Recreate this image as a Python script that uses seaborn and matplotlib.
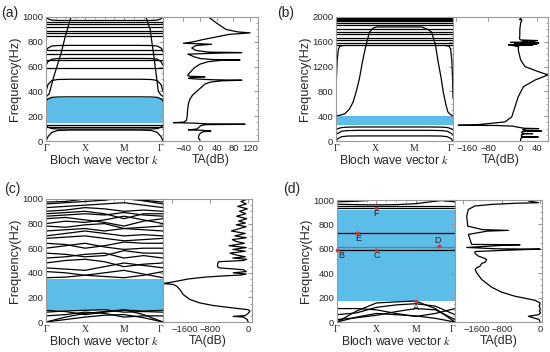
import matplotlib
matplotlib.use("Agg")
import matplotlib.pyplot as plt
import seaborn as sns
from matplotlib.ticker import MultipleLocator

sns.set_style("white")
plt.rcParams['font.family'] = ['Liberation Sans', 'DejaVu Sans']
plt.rcParams['mathtext.fontset'] = 'stix'

BLUE = '#5BBDE8'
GREY = '#9a9a9a'
K_TICKS = [0, 1, 2, 3]
K_LABELS = ['Γ', 'X', 'M', 'Γ']

# ---------------- panel (a) ----------------
KA = [0, 0.05, 0.15, 0.3, 0.6, 1, 2, 2.4, 2.7, 2.85, 2.95, 3]
bands_a = [
    [0, 35, 70, 85, 88, 88, 88, 88, 85, 70, 35, 0],
    [130, 112, 100, 97, 96, 96, 96, 96, 97, 100, 112, 130],
    [322, 340, 352, 355, 356, 356, 356, 356, 355, 352, 340, 322],
    [400, 455, 488, 496, 498, 498, 498, 498, 496, 488, 455, 400],
    [610, 640, 660, 665, 666, 666, 666, 666, 665, 660, 640, 610],
    [720, 750, 766, 770, 771, 771, 771, 771, 770, 766, 750, 720],
    [1010, 985, 975, 972, 972, 972, 972, 972, 972, 975, 985, 1010],
]
steep_a_left_k = [0, 0.08, 0.2, 0.38, 0.5, 0.65]
steep_a_left_f = [355, 380, 520, 700, 850, 1010]
steep_a_right_k = [2.55, 2.67, 2.78, 2.88, 2.95, 3]
steep_a_right_f = [1010, 900, 650, 400, 370, 360]
flat_a = [113, 128, 590, 650, 700, 730, 850, 868, 885, 920, 940, 960]
gap_a = [145, 347]

ta_a_f = [5, 25, 45, 60, 70, 76, 80, 86, 90, 96, 110, 125, 132, 135, 138, 144, 148, 152,
          165, 200, 250, 300, 340, 370, 400, 430, 460, 475, 485, 490, 494, 500, 505, 512,
          518, 522, 530, 560, 590, 620, 640, 650, 653, 657, 665, 680, 695, 700, 705, 710,
          713, 717, 730, 750, 770, 780, 784, 788, 800, 820, 840, 860, 872, 880, 900, 950, 1000]
ta_a_db = [0, -4, -3, 0, 4, 10, 26, 5, -28, -8, -3, 2, 15, 108, 20, -15, -64, -40,
           -33, -31, -30, -28, -24, -18, -8, 2, 12, 25, 50, 100, 30, -10, -28, -20,
           12, -25, -30, -22, -14, 0, 20, 50, 96, 30, 0, -15, -25, -29, 10, 60,
           100, 20, -10, -20, -10, 28, 0, -40, -16, 10, 40, 70, 120, 90, 62, 40, 20]

# ---------------- panel (b) ----------------
KB = KA
bands_b = [
    [0, 40, 70, 80, 82, 82, 82, 82, 80, 70, 40, 0],
    [100, 125, 158, 168, 172, 172, 172, 172, 168, 158, 125, 100],
    [180, 200, 218, 224, 226, 226, 226, 226, 224, 218, 200, 180],
]
steep_b_k = [0, 0.1, 0.23, 0.35, 0.44, 0.52, 0.6, 0.67, 0.73, 0.8, 0.86, 0.95, 1.05,
             2.2, 2.35, 2.45, 2.55, 2.62, 2.7, 2.75, 2.82, 2.87, 2.95, 3]
steep_b_f = [405, 415, 440, 520, 630, 800, 1005, 1250, 1435, 1620, 1758, 1820, 1840,
             1840, 1800, 1758, 1550, 1274, 1000, 790, 580, 468, 420, 410]
edge_b_left_k = [0, 0.01, 0.03, 0.06, 0.1, 0.2]
edge_b_right_k = [3, 2.99, 2.97, 2.94, 2.9, 2.8]
edge_b_f = [700, 1000, 1300, 1480, 1530, 1540]
flat_b = [1545, 1575, 1625, 1655, 1720, 1765, 1800, 1870, 1905, 1930, 1950, 1970, 1985]
gap_b = [253, 398]

ta_b_f = [0, 30, 55, 62, 65, 68, 75, 100, 115, 119, 123, 140, 155, 160, 163, 168, 185,
          195, 200, 205, 220, 240, 250, 254, 258, 270, 308, 389, 551, 713, 876, 984,
          1065, 1119, 1200, 1308, 1470, 1520, 1540, 1545, 1550, 1560, 1570, 1580, 1590,
          1600, 1610, 1620, 1630, 1650, 1700, 1800, 1900, 1950, 1960, 1970, 2000]
ta_b_db = [0, 0, 2, 10, 44, 10, 2, 2, 10, 30, 5, 2, 5, 20, 52, 10, 5,
           15, 45, 10, -5, -20, -60, -155, -120, -97, -39, -22, -14, -6, 7, 36,
           68, 44, 11, 0, -6, -5, -20, 30, -30, 40, -15, 45, -25,
           35, 5, 42, 0, -3, -2, -2, 0, 3, -3, 0, 0]

# ---------------- panel (c) ----------------
KC = [0, 0.5, 1, 1.5, 2, 2.5, 3]
bands_c = [
    [0, 40, 70, 85, 100, 60, 0],
    [0, 20, 40, 55, 60, 35, 0],
    [50, 60, 80, 70, 40, 50, 50],
    [80, 90, 95, 100, 80, 85, 80],
    [95, 85, 60, 80, 97, 90, 95],
    [360, 365, 380, 400, 420, 390, 360],
    [410, 400, 380, 370, 360, 380, 410],
    [440, 430, 420, 450, 480, 460, 440],
    [480, 500, 510, 490, 450, 470, 480],
    [520, 530, 550, 560, 520, 540, 520],
    [560, 550, 530, 540, 580, 560, 560],
    [600, 620, 640, 610, 590, 600, 600],
    [640, 630, 600, 620, 650, 640, 640],
    [680, 690, 700, 680, 660, 670, 680],
    [700, 720, 740, 720, 700, 710, 700],
    [740, 750, 760, 740, 760, 750, 740],
    [780, 770, 790, 800, 760, 770, 780],
    [800, 820, 810, 830, 860, 830, 800],
    [840, 850, 830, 810, 780, 820, 840],
    [860, 870, 880, 870, 890, 870, 860],
    [880, 890, 900, 880, 840, 880, 880],
    [900, 910, 930, 920, 900, 910, 900],
    [930, 940, 950, 960, 970, 950, 930],
    [960, 970, 980, 990, 1010, 985, 960],
    [975, 980, 1000, 1010, 1000, 990, 975],
]
gap_c = [101, 346]

ta_c_f = [0, 20, 40, 46, 52, 70, 87, 100, 114, 134, 155, 183, 223, 264, 292, 305, 313,
          318, 324, 335, 350, 365, 375, 382, 390, 400, 410, 425, 440, 450, 470, 490, 500,
          510, 520, 530, 545, 560, 575, 590, 605, 620, 640, 655, 670, 685, 700, 720, 740,
          760, 775, 790, 805, 820, 840, 860, 880, 900, 920, 940, 960, 980, 1000]
ta_c_db = [0, -20, -100, -313, -60, 0, 35, 0, -313, -730, -1009, -1218, -1357, -1427,
           -1496, -1566, -1775, -1700, -1600, -1450, -1250, -900, -500, -150, -40, -313,
           -40, -100, -600, -640, -640, -620, -100, -30, -320, -60, -250, -380, -60, -320,
           -40, -400, -80, -250, -330, -40, -280, -60, -350, -180, -40, -250, -60, -200,
           -30, -240, -50, -180, -20, -220, -40, -150, -10]

# ---------------- panel (d) ----------------
KD = KC
bands_d = [
    [0, 90, 156, 165, 172, 110, 0],
    [0, 40, 70, 60, 50, 30, 0],
    [110, 110, 100, 70, 45, 70, 110],
    [20, 35, 55, 85, 110, 100, 20],
    [60, 75, 120, 140, 150, 130, 60],
    [965, 962, 960, 962, 970, 990, 1010],
    [985, 990, 1000, 1010, 1010, 1000, 985],
]
flat_d = [590, 730, 935, 950]
flat_d_grey = [618]
gap_d = [170, 922]
points_d = ['A', 'B', 'C', 'D', 'E', 'F']
points_d_k = [2, 0, 1, 2.6, 0.5, 1]
points_d_f = [175, 590, 590, 620, 731, 935]
labels_d_k = [2, 0.12, 1, 2.55, 0.55, 1]
labels_d_f = [118, 545, 545, 665, 688, 893]

ta_d_f = [0, 20, 47, 60, 74, 90, 110, 130, 156, 178, 189, 211, 244, 285, 348, 403, 430,
          444, 458, 480, 490, 512, 526, 540, 562, 578, 594, 597, 600, 611, 630, 633, 636,
          677, 718, 745, 751, 757, 786, 869, 923, 951, 964, 973, 978, 992, 1005]
ta_d_db = [0, -20, -244, -30, 10, -15, 5, -20, 0, -104, -244, -522, -800, -1009, -1218,
           -1322, -1357, -1322, -1253, -1218, -1148, -1113, -1183, -1288, -1357, -1357,
           -300, 0, -900, -1531, -700, -418, -1427, -1462, -1496, -1100, -661, -1200,
           -1510, -1531, -1496, -1357, -1009, -522, -35, -244, 0]


def box(x0, x1, y0, y1):
    return [x0 / 550, 1 - y1 / 352, (x1 - x0) / 550, (y1 - y0) / 352]


def style_axes(ax):
    for sp in ax.spines.values():
        sp.set_color(GREY)
        sp.set_linewidth(0.8)
    ax.tick_params(which='both', direction='in', color=GREY, top=True, right=True,
                   labelsize=6.8, pad=2)
    ax.tick_params(which='major', length=3)
    ax.tick_params(which='minor', length=1.5)


def band_axes(fig, rect, ymax, ystep, gap):
    ax = fig.add_axes(rect)
    style_axes(ax)
    ax.axhspan(gap[0], gap[1], color=BLUE, lw=0, zorder=0)
    ax.set_xlim(0, 3)
    ax.set_ylim(0, ymax)
    ax.set_xticks(K_TICKS)
    ax.set_xticklabels(K_LABELS, family='Liberation Serif', fontsize=7)
    ax.get_xticklabels()[-1].set_ha('right')
    ax.yaxis.set_major_locator(MultipleLocator(ystep))
    ax.yaxis.set_minor_locator(MultipleLocator(ystep / 4))
    ax.xaxis.set_minor_locator(MultipleLocator(0.25))
    ax.set_ylabel('Frequency(Hz)', fontsize=9.2, labelpad=1)
    ax.set_xlabel('Bloch wave vector $k$', fontsize=8.8, labelpad=1)
    return ax


def ta_axes(fig, rect, ymax, ystep, xlim, xticks, f, db, first_left=False):
    ax = fig.add_axes(rect)
    style_axes(ax)
    sns.lineplot(x=db, y=f, sort=False, estimator=None, color='black', lw=0.9, ax=ax)
    ax.set_xlim(*xlim)
    ax.set_ylim(0, ymax)
    ax.set_xticks(xticks)
    ax.set_xticklabels(['\u2212%d' % -t if t < 0 else str(t) for t in xticks])
    if first_left:
        ax.get_xticklabels()[0].set_ha('left')
    ax.yaxis.set_major_locator(MultipleLocator(ystep))
    ax.yaxis.set_minor_locator(MultipleLocator(ystep / 4))
    ax.set_yticklabels([])
    ax.set_xlabel('TA(dB)', fontsize=8.8, labelpad=1)
    ax.set_ylabel('')
    return ax


def draw_bands(ax, k, bands, flats=(), colour='black'):
    for b in bands:
        ax.plot(k, b, color='black', lw=0.9)
    for v in flats:
        ax.plot([0, 3], [v, v], color=colour, lw=0.9)


fig = plt.figure(figsize=(5.5, 3.52), dpi=100)

# (a)
ax = band_axes(fig, box(46, 163, 17, 141), 1000, 200, gap_a)
draw_bands(ax, KA, bands_a, flat_a)
ax.plot(steep_a_left_k, steep_a_left_f, color='black', lw=0.9)
ax.plot(steep_a_right_k, steep_a_right_f, color='black', lw=0.9)
ta_axes(fig, box(163, 258, 17, 141), 1000, 200, (-89, 139), [-40, 0, 40, 80, 120],
        ta_a_f, ta_a_db)

# (b)
ax = band_axes(fig, box(336, 453, 17, 141), 2000, 400, gap_b)
draw_bands(ax, KB, bands_b, flat_b)
ax.plot(steep_b_k, steep_b_f, color='black', lw=0.9)
ax.plot(edge_b_left_k, edge_b_f, color='black', lw=0.9)
ax.plot(edge_b_right_k, edge_b_f, color='black', lw=0.9)
ta_axes(fig, box(453, 548, 17, 141), 2000, 400, (-168, 68), [-160, -80, 0, 40],
        ta_b_f, ta_b_db, first_left=True)

# (c)
ax = band_axes(fig, box(46, 163, 199, 322), 1000, 200, gap_c)
draw_bands(ax, KC, bands_c)
ta_axes(fig, box(163, 252, 199, 322), 1000, 200, (-1780, 80), [-1600, -800, 0],
        ta_c_f, ta_c_db, first_left=True)

# (d)
ax = band_axes(fig, box(337, 455, 200, 322), 1000, 200, gap_d)
draw_bands(ax, KD, bands_d, flat_d)
draw_bands(ax, KD, [], flat_d_grey, colour='#777777')
ax.scatter(points_d_k, points_d_f, s=3, color='#e03030', zorder=5, clip_on=False)
for name, kx, fy in zip(points_d, labels_d_k, labels_d_f):
    ax.text(kx, fy, name, fontsize=6.5, ha='center', va='center', color='#222222')
ta_axes(fig, box(455, 542, 200, 322), 1000, 200, (-1775, 40), [-1600, -800, 0],
        ta_d_f, ta_d_db, first_left=True)

fig.text(0.002, 0.963, '(a)', fontsize=10, va='center')
fig.text(0.504, 0.963, '(b)', fontsize=10, va='center')
fig.text(0.008, 0.463, '(c)', fontsize=10, va='center')
fig.text(0.515, 0.463, '(d)', fontsize=10, va='center')

fig.savefig('out.png', dpi=100)
